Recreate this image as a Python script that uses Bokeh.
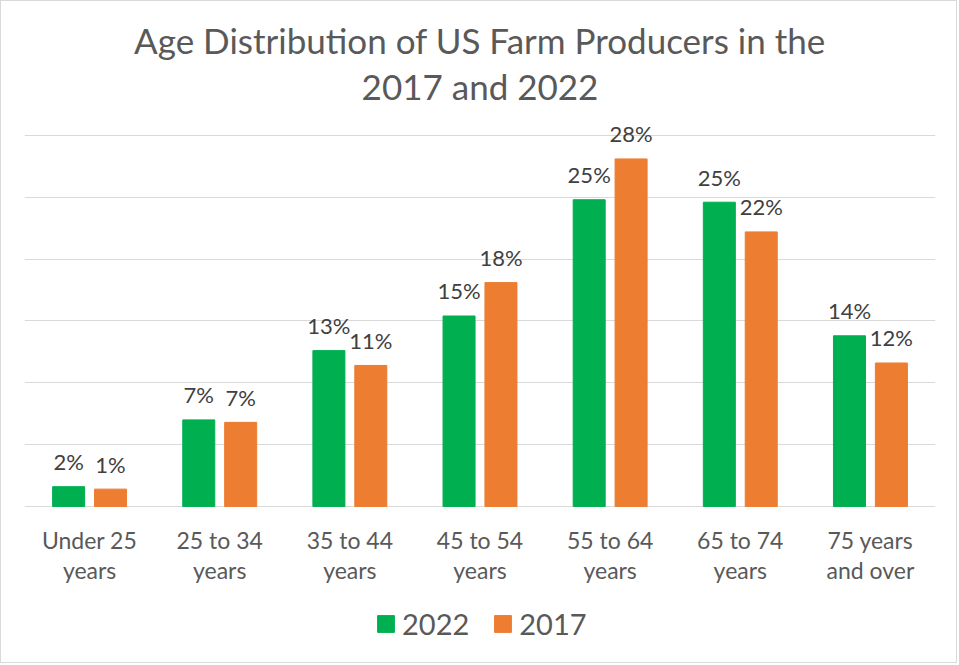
from bokeh.core.properties import value
from bokeh.embed import file_html
from bokeh.models import ColumnDataSource, FixedTicker, Legend, LegendItem, Range1d
from bokeh.plotting import figure
from bokeh.resources import INLINE
from bokeh.transform import dodge

# values (percent of producers)
categories = ["Under 25\nyears", "25 to 34\nyears", "35 to 44\nyears", "45 to 54\nyears",
              "55 to 64\nyears", "65 to 74\nyears", "75 years\nand over"]
share_2022 = [1.6, 7.0, 12.6, 15.4, 24.8, 24.6, 13.8]
share_2017 = [1.4, 6.8, 11.4, 18.1, 28.1, 22.2, 11.6]
grid_ticks = [0, 5, 10, 15, 20, 25, 30]
title_lines = ["Age Distribution of US Farm Producers in the", "2017 and 2022"]

GREEN = "#00B050"
ORANGE = "#ED7D31"
FONT = "Lato"

source = ColumnDataSource(data=dict(
    cat=categories,
    v22=share_2022,
    v17=share_2017,
    t22=[f"{v:.0f}%" for v in share_2022],
    t17=[f"{v:.0f}%" for v in share_2017],
))

# the frame fills the whole height; title and legend sit inside it, above/below the bars
p = figure(x_range=categories, y_range=Range1d(-12.78, 40.83), width=957, height=663,
           output_backend="svg", toolbar_location=None, y_axis_location=None,
           min_border_left=23, min_border_right=23, min_border_top=0, min_border_bottom=0,
           styles={"border": "1px solid #D9D9D9"})
p.outline_line_color = None
p.xgrid.visible = False
p.ygrid.ticker = FixedTicker(ticks=grid_ticks)
p.ygrid.grid_line_color = "#D9D9D9"
p.ygrid.grid_line_width = 1

title_src = ColumnDataSource(data=dict(x=[categories[3]] * 2, y=[37.68, 33.96], text=title_lines))
p.text(x="x", y="y", text="text", source=title_src, text_align="center", text_baseline="middle",
       text_font=value(FONT), text_font_size="35px", text_color="#595959")

r22 = p.vbar(x=dodge("cat", -0.161, range=p.x_range), top="v22", width=0.246,
             source=source, color=GREEN)
r17 = p.vbar(x=dodge("cat", 0.161, range=p.x_range), top="v17", width=0.246,
             source=source, color=ORANGE)

for xo, col in [(-0.161, "22"), (0.161, "17")]:
    p.text(x=dodge("cat", xo, range=p.x_range), y="v" + col, text="t" + col, source=source,
           text_align="center", text_baseline="alphabetic", y_offset=-25,
           text_font=value(FONT), text_font_size="22px", text_color="#404040")

ax = p.xaxis[0]
ax.fixed_location = 0
ax.axis_line_color = None
ax.major_tick_line_color = None
ax.major_tick_in = 0
ax.major_tick_out = 0
ax.major_label_standoff = 20
ax.major_label_text_font = FONT
ax.major_label_text_font_size = "23px"
ax.major_label_text_color = "#595959"
ax.major_label_text_line_height = 1.05

legend = Legend(items=[LegendItem(label="2022", renderers=[r22]),
                       LegendItem(label="2017", renderers=[r17])],
                orientation="horizontal", location=(351, 23),
                glyph_width=21, glyph_height=21, label_standoff=6, spacing=23,
                padding=0, margin=0, border_line_color=None, background_fill_alpha=0,
                label_text_font=FONT, label_text_font_size="29px", label_text_color="#595959")
p.add_layout(legend, "center")

open("out.html", "w").write(file_html(p, INLINE))
